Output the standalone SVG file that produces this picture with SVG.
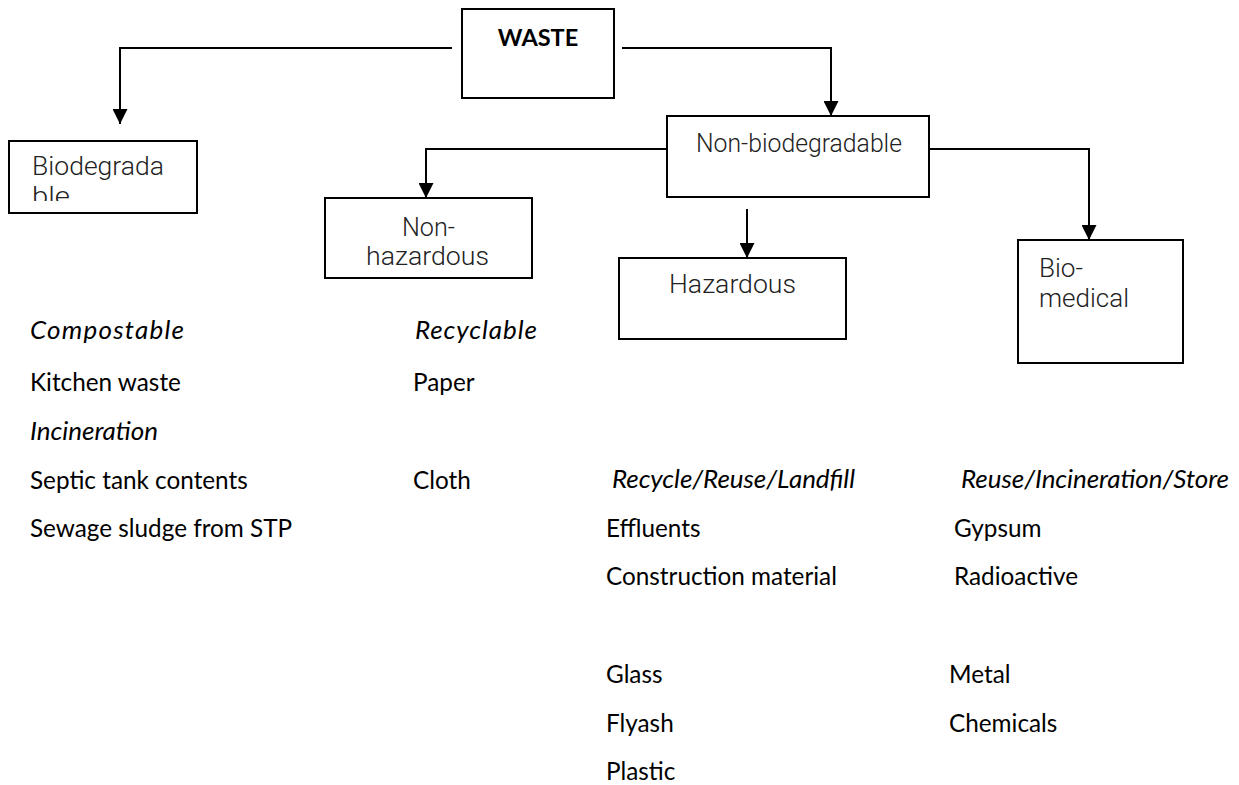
<svg xmlns="http://www.w3.org/2000/svg" width="1239" height="785" viewBox="0 0 1239 785">
  <style>
    .box { fill: #fff; stroke: #000; stroke-width: 2; }
    .lbl { font-family: Roboto, "Liberation Sans", sans-serif; font-weight: 300; font-size: 25px; fill: #222; }
    .title { font-family: Lato, "Liberation Sans", sans-serif; font-weight: 700; font-size: 23.5px; fill: #000; }
    .txt { font-family: Lato, "Liberation Sans", sans-serif; font-size: 24.3px; fill: #000; }
    .it { font-style: italic; font-size: 26px; }
    .conn { fill: none; stroke: #000; stroke-width: 2; }
  </style>
  <defs>
    <marker id="arrow" markerUnits="userSpaceOnUse" markerWidth="15" markerHeight="15" viewBox="0 0 15 15" refX="15" refY="7.5" orient="auto">
      <path d="M0,0 L15,7.5 L0,15 z" fill="#000"/>
    </marker>
    <clipPath id="bioClip">
      <rect x="10" y="142" width="186" height="59"/>
    </clipPath>
  </defs>
  <rect width="1239" height="785" fill="#fff"/>

  <!-- connectors -->
  <g id="connectors">
    <path class="conn" d="M452,48 H120 V124" marker-end="url(#arrow)"/>
    <path class="conn" d="M622,48 H831 V116" marker-end="url(#arrow)"/>
    <path class="conn" d="M667,149 H426 V198" marker-end="url(#arrow)"/>
    <path class="conn" d="M747,209 V258" marker-end="url(#arrow)"/>
    <path class="conn" d="M929,149 H1089 V240" marker-end="url(#arrow)"/>
  </g>

  <!-- nodes -->
  <g id="waste">
    <rect class="box" x="462" y="9" width="152" height="89"/>
    <text class="title" x="538" y="46" text-anchor="middle">WASTE</text>
  </g>
  <g id="biodegradable">
    <rect class="box" x="9" y="141" width="188" height="72"/>
    <g clip-path="url(#bioClip)">
      <text class="lbl" x="32" y="175" textLength="132" lengthAdjust="spacingAndGlyphs">Biodegrada</text>
      <text class="lbl" x="32" y="205" textLength="38" lengthAdjust="spacingAndGlyphs">ble</text>
    </g>
  </g>
  <g id="non-biodegradable">
    <rect class="box" x="667" y="116" width="262" height="81"/>
    <text class="lbl" x="696" y="152" textLength="206" lengthAdjust="spacingAndGlyphs">Non-biodegradable</text>
  </g>
  <g id="non-hazardous">
    <rect class="box" x="325" y="198" width="207" height="80"/>
    <text class="lbl" x="402" y="236" textLength="53" lengthAdjust="spacingAndGlyphs">Non-</text>
    <text class="lbl" x="366" y="265" textLength="123" lengthAdjust="spacingAndGlyphs">hazardous</text>
  </g>
  <g id="hazardous">
    <rect class="box" x="619" y="258" width="227" height="81"/>
    <text class="lbl" x="669" y="293" textLength="127" lengthAdjust="spacingAndGlyphs">Hazardous</text>
  </g>
  <g id="bio-medical">
    <rect class="box" x="1018" y="240" width="165" height="123"/>
    <text class="lbl" x="1039" y="277" textLength="44" lengthAdjust="spacingAndGlyphs">Bio-</text>
    <text class="lbl" x="1039" y="307" textLength="90" lengthAdjust="spacingAndGlyphs">medical</text>
  </g>

  <!-- category lists -->
  <g id="list-biodegradable">
    <text class="txt it" x="30" y="339" textLength="154">Compostable</text>
    <text class="txt" x="30" y="391">Kitchen waste</text>
    <text class="txt it" x="30" y="440" textLength="128">Incineration</text>
    <text class="txt" x="30" y="489">Septic tank contents</text>
    <text class="txt" x="30" y="537">Sewage sludge from STP</text>
  </g>
  <g id="list-non-hazardous">
    <text class="txt it" x="415" y="339" textLength="122">Recyclable</text>
    <text class="txt" x="413" y="391">Paper</text>
    <text class="txt" x="413" y="489">Cloth</text>
  </g>
  <g id="list-hazardous">
    <text class="txt it" x="612" y="488" textLength="243">Recycle/Reuse/Landfill</text>
    <text class="txt" x="606" y="537">Effluents</text>
    <text class="txt" x="606" y="585">Construction material</text>
    <text class="txt" x="606" y="683">Glass</text>
    <text class="txt" x="606" y="732">Flyash</text>
    <text class="txt" x="606" y="780">Plastic</text>
  </g>
  <g id="list-bio-medical">
    <text class="txt it" x="961" y="488" textLength="268">Reuse/Incineration/Store</text>
    <text class="txt" x="954" y="537">Gypsum</text>
    <text class="txt" x="954" y="585">Radioactive</text>
    <text class="txt" x="949" y="683">Metal</text>
    <text class="txt" x="949" y="732">Chemicals</text>
  </g>
</svg>
